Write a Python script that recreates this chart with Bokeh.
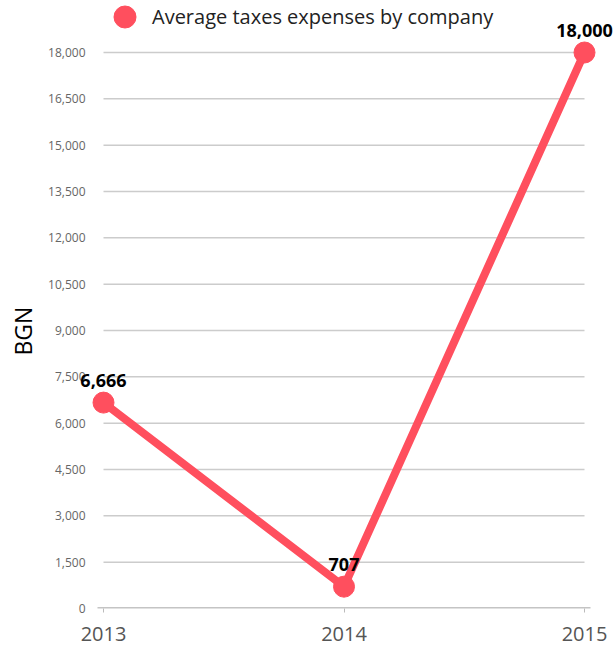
from bokeh.plotting import figure
from bokeh.models import (ColumnDataSource, Range1d, FixedTicker, NumeralTickFormatter,
                          LabelSet, Legend, LegendItem, Title)
from bokeh.core.properties import value
from bokeh.embed import file_html
from bokeh.resources import INLINE

# ---- data ----
years = [2013, 2014, 2015]
values = [6666, 707, 18000]
value_labels = ["6,666", "707", "18,000"]
y_ticks = [0, 1500, 3000, 4500, 6000, 7500, 9000, 10500, 12000, 13500, 15000, 16500, 18000]
series_name = "Average taxes expenses by company"
y_title = "BGN"

RED = "#ff4f5e"
FONT = "Open Sans"

px_per_year = 240.5
px_per_unit = 556 / 18000
FRAME_LEFT = 76
FRAME_BOTTOM = 608

p = figure(width=614, height=650, output_backend="svg", toolbar_location=None,
           x_range=Range1d(years[0] - 27 / px_per_year, years[-1] + 30 / px_per_year),
           y_range=Range1d(0, FRAME_BOTTOM / px_per_unit),
           min_border_left=FRAME_LEFT, min_border_right=0, min_border_top=0,
           min_border_bottom=650 - FRAME_BOTTOM)
p.outline_line_color = None
p.xgrid.visible = False
p.ygrid.visible = False

# gridlines (drawn between first and last category)
p.segment(x0=[years[0]] * len(y_ticks[1:]), x1=[years[-1]] * len(y_ticks[1:]),
          y0=y_ticks[1:], y1=y_ticks[1:], line_color="#cccccc", line_width=1.5)
# baseline
p.segment(x0=[years[0] - 6 / px_per_year], x1=[years[-1] + 6 / px_per_year],
          y0=[0], y1=[0], line_color="#c4c4c4", line_width=3)

src = ColumnDataSource(dict(x=years, y=values, lab=value_labels))
ln = p.line("x", "y", source=src, line_color=RED, line_width=8)
sc = p.scatter("x", "y", source=src, size=21, fill_color=RED, line_color=RED)

labels = LabelSet(x="x", y="y", text="lab", source=src, text_align="center",
                  text_baseline="bottom", y_offset=16, text_font=value(FONT),
                  text_font_size="18px", text_font_style="bold", text_color="black")
p.add_layout(labels)

# axes
xa = p.xaxis[0]
xa.ticker = FixedTicker(ticks=years)
xa.axis_line_color = None
xa.major_tick_line_color = "#bbbbbb"
xa.major_tick_out = 4
xa.major_tick_in = 0
xa.minor_tick_line_color = None
xa.major_label_text_font = FONT
xa.major_label_text_font_size = "20px"
xa.major_label_text_color = "#555555"
xa.major_label_standoff = 14

ya = p.yaxis[0]
ya.ticker = FixedTicker(ticks=y_ticks)
ya.formatter = NumeralTickFormatter(format="0,0")
ya.axis_line_color = None
ya.major_tick_line_color = None
ya.major_tick_out = 0
ya.major_tick_in = 0
ya.minor_tick_line_color = None
ya.major_label_text_font = FONT
ya.major_label_text_font_size = "12px"
ya.major_label_text_color = "#666666"
ya.major_label_standoff = -9

p.add_layout(Title(text=y_title, align="left", offset=253, standoff=10, vertical_align="top",
                   text_line_height=0.7, text_font=FONT, text_font_size="23px",
                   text_font_style="normal", text_color="black"),
             "left")

legend = Legend(items=[LegendItem(label=series_name, renderers=[sc])],
                location=(21, 564), orientation="horizontal",
                label_text_font=FONT, label_text_font_size="20px", label_text_color="#222222",
                glyph_width=55, glyph_height=55, label_standoff=0, padding=0, margin=0,
                border_line_color=None, background_fill_alpha=0)
p.add_layout(legend)

open("out.html", "w").write(file_html(p, INLINE))
